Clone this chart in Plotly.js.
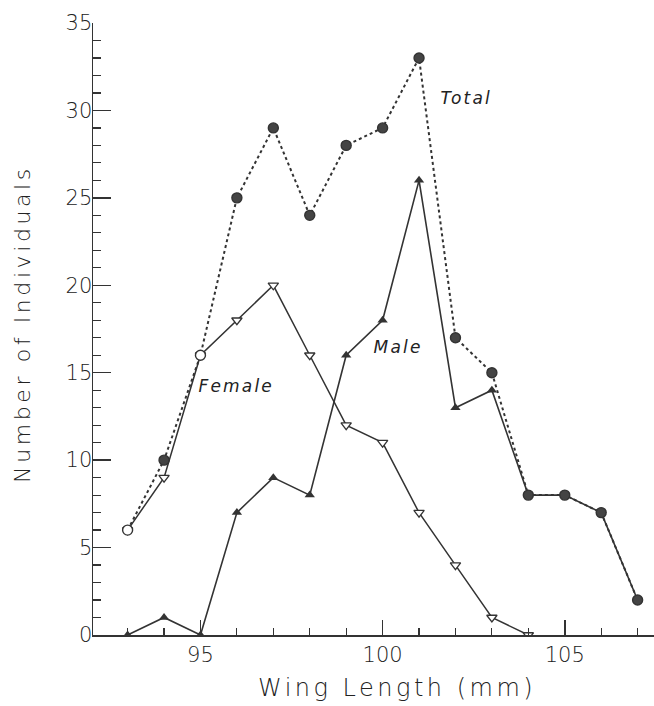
<!DOCTYPE html>
<html>
<head>
<meta charset="utf-8">
<script src="https://cdn.plot.ly/plotly-3.0.1.min.js"></script>
<style>
  html, body { margin: 0; padding: 0; background: #fff; }
  #chart { width: 654px; height: 706px; }
  .annotation[data-index="0"] text { letter-spacing: 3.5px; }
  .annotation[data-index="1"] text { letter-spacing: 3.6px; }
  .annotation[data-index="2"] text,
  .annotation[data-index="3"] text,
  .annotation[data-index="4"] text { letter-spacing: 2.2px; }
</style>
</head>
<body>
<div id="chart"></div>
<script>
// Wing length classes (mm)
const wingLength = [93, 94, 95, 96, 97, 98, 99, 100, 101, 102, 103, 104, 105, 106, 107];
// Counts
const female = [6, 9, 16, 18, 20, 16, 12, 11, 7, 4, 1, 0];
const male   = [0, 1, 0, 7, 9, 8, 16, 18, 26, 13, 14, 8, 8, 7, 2];
const total  = [6, 10, 16, 25, 29, 24, 28, 29, 33, 17, 15, 8, 8, 7, 2];
const yTicks = [0, 5, 10, 15, 20, 25, 30, 35];
const xTicks = [95, 100, 105];

const ink = '#333333';
const txt = '#222222';
const fontFam = '"DejaVu Sans", "Open Sans", sans-serif';

const femaleTrace = {
  x: wingLength.slice(0, female.length), y: female,
  mode: 'lines+markers', type: 'scatter',
  line: { color: ink, width: 1.5 },
  marker: { symbol: 'triangle-down', size: 9, color: '#ffffff', line: { color: ink, width: 1.3 } },
  name: 'Female'
};
const maleTrace = {
  x: wingLength, y: male,
  mode: 'lines+markers', type: 'scatter',
  line: { color: ink, width: 1.6 },
  marker: { symbol: 'triangle-up', size: 9, color: ink },
  name: 'Male'
};
// Where there are no males the total equals the female count and is shown as an open circle
const totalFill = male.map(v => v === 0 ? '#ffffff' : '#444444');
const totalTrace = {
  x: wingLength, y: total,
  mode: 'lines+markers', type: 'scatter',
  line: { color: ink, width: 2, dash: 'dot' },
  marker: { symbol: 'circle', size: 10, color: totalFill, line: { color: ink, width: 1.4 } },
  name: 'Total'
};

const layout = {
  width: 654, height: 706,
  margin: { l: 93, r: 0, t: 23, b: 71, pad: 0 },
  paper_bgcolor: '#ffffff', plot_bgcolor: '#ffffff',
  showlegend: false,
  font: { family: fontFam, color: txt },
  xaxis: {
    range: [92.05, 107.45],
    tickmode: 'array', tickvals: xTicks, ticktext: xTicks.map(String),
    ticks: 'inside', ticklen: 15, tickwidth: 1.5, tickcolor: ink,
    minor: { dtick: 1, tick0: 92, ticks: 'inside', ticklen: 7, tickwidth: 1.2, tickcolor: ink, showgrid: false },
    showline: true, linecolor: ink, linewidth: 1.5,
    showgrid: false, zeroline: false,
    tickfont: { size: 21, color: txt, family: fontFam, weight: 200 },
    ticklabelstandoff: 0
  },
  yaxis: {
    range: [0, 35],
    tickmode: 'array', tickvals: yTicks, ticktext: yTicks.map(String),
    ticks: 'inside', ticklen: 18, tickwidth: 1.5, tickcolor: ink,
    minor: { dtick: 1, tick0: 0, ticks: 'inside', ticklen: 8, tickwidth: 1.2, tickcolor: ink, showgrid: false },
    showline: true, linecolor: ink, linewidth: 1.5,
    showgrid: false, zeroline: false,
    tickfont: { size: 21, color: txt, family: fontFam, weight: 200 },
    ticklabelstandoff: -5
  },
  annotations: [
    { xref: 'paper', yref: 'paper', x: 0.542, y: -0.0866, yanchor: 'middle', text: 'Wing Length (mm)',
      showarrow: false, font: { size: 24, color: txt, family: fontFam, weight: 200 } },
    { xref: 'paper', yref: 'paper', x: -0.1266, y: 0.508, xanchor: 'center', yanchor: 'middle', textangle: -90,
      text: 'Number of Individuals', showarrow: false, font: { size: 22, color: txt, family: fontFam, weight: 200 } },
    { x: 102.3, y: 30.7, text: 'Total', showarrow: false, font: { size: 17, color: txt, family: fontFam, weight: 200, style: 'italic' } },
    { x: 100.43, y: 16.47, text: 'Male', showarrow: false, font: { size: 17, color: txt, family: fontFam, weight: 200, style: 'italic' } },
    { x: 95.98, y: 14.24, text: 'Female', showarrow: false, font: { size: 17, color: txt, family: fontFam, weight: 200, style: 'italic' } }
  ]
};

Plotly.newPlot('chart', [femaleTrace, maleTrace, totalTrace], layout, { displayModeBar: false, staticPlot: true });
</script>
</body>
</html>
